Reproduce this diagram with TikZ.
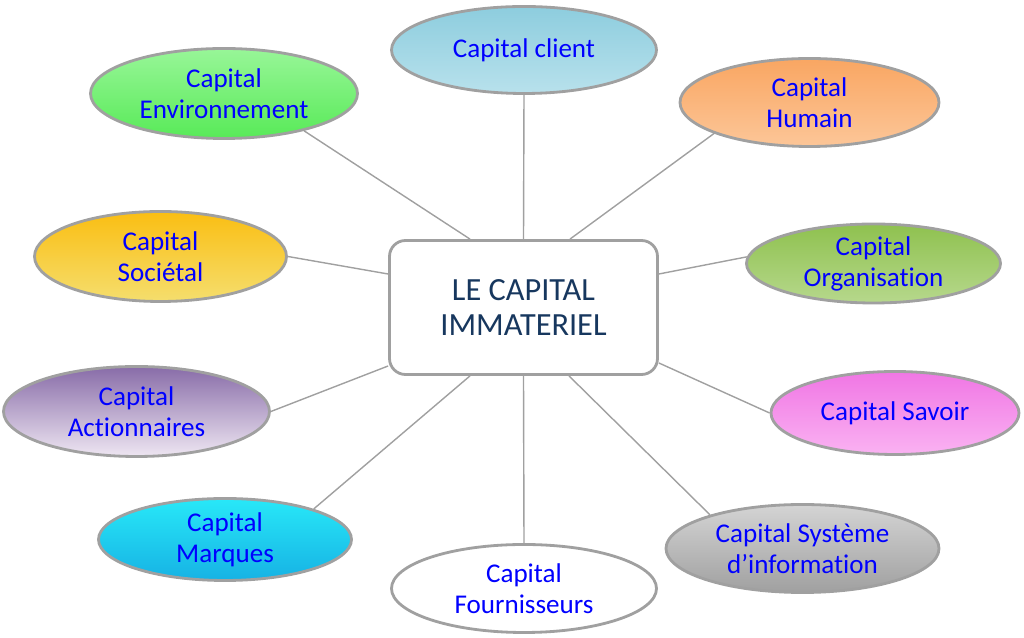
\documentclass[tikz,border=0pt]{standalone}
\usepackage{fontspec}
\setmainfont[Ligatures=NoCommon]{Carlito}
\usepackage{tikz}
\usetikzlibrary{shapes.geometric}

\definecolor{bordgris}{RGB}{160,160,160}
\definecolor{textehub}{RGB}{23,55,94}

\begin{document}
\begin{tikzpicture}
	\tikzstyle{bulle}=[ellipse, draw=bordgris, line width=1.6pt, inner sep=0pt, text=blue, align=center, font=\fontsize{15.4}{17.6}\selectfont]
	\tikzstyle{lien}=[draw=bordgris, line width=0.8pt]
	\useasboundingbox (0,0) rectangle (20.48,12.76);
	
	\node[draw=bordgris, line width=1.6pt, rounded corners=0.32cm, minimum width=5.36cm, minimum height=2.68cm, align=center, text=textehub, font=\fontsize{18.4}{20}\selectfont] (hub) at (10.47,6.61) {LE CAPITAL\\IMMATERIEL};
	
	\node[bulle, minimum width=5.30cm, minimum height=1.74cm, top color={rgb,255:red,141;green,205;blue,222}, bottom color={rgb,255:red,184;green,225;blue,236}] (client) at (10.48,11.76) {Capital client};
	\node[bulle, minimum width=5.18cm, minimum height=1.76cm, top color={rgb,255:red,249;green,166;blue,98}, bottom color={rgb,255:red,252;green,198;blue,152}] (humain) at (16.19,10.71) {Capital\\Humain};
	\node[bulle, minimum width=5.08cm, minimum height=1.58cm, top color={rgb,255:red,143;green,193;blue,79}, bottom color={rgb,255:red,182;green,216;blue,140}] (organisation) at (17.47,7.49) {Capital\\Organisation};
	\node[bulle, minimum width=4.96cm, minimum height=1.66cm, top color={rgb,255:red,240;green,118;blue,228}, bottom color={rgb,255:red,250;green,178;blue,242}] (savoir) at (17.90,4.50) {Capital Savoir};
	\node[bulle, minimum width=5.46cm, minimum height=1.76cm, top color={rgb,255:red,212;green,212;blue,212}, bottom color={rgb,255:red,160;green,160;blue,160}] (systeme) at (16.05,1.79) {Capital Système\\d’information};
	\node[bulle, minimum width=5.30cm, minimum height=1.76cm, fill=white] (fournisseurs) at (10.48,0.99) {Capital\\Fournisseurs};
	\node[bulle, minimum width=5.06cm, minimum height=1.64cm, top color={rgb,255:red,40;green,232;blue,248}, bottom color={rgb,255:red,22;green,178;blue,228}] (marques) at (4.50,1.97) {Capital\\Marques};
	\node[bulle, minimum width=5.32cm, minimum height=1.80cm, top color={rgb,255:red,136;green,108;blue,168}, bottom color={rgb,255:red,238;green,230;blue,242}] (actionnaires) at (2.73,4.53) {Capital\\Actionnaires};
	\node[bulle, minimum width=5.04cm, minimum height=1.80cm, top color={rgb,255:red,250;green,190;blue,18}, bottom color={rgb,255:red,245;green,222;blue,110}] (societal) at (3.21,7.63) {Capital\\Sociétal};
	\node[bulle, minimum width=5.34cm, minimum height=1.80cm, top color={rgb,255:red,152;green,246;blue,152}, bottom color={rgb,255:red,88;green,234;blue,88}] (environnement) at (4.48,10.89) {Capital\\Environnement};
	
	\path[lien]
	(hub.north) edge (client.south)
	([xshift=0.93cm]hub.north) edge (humain.198)
	([yshift=0.67cm]hub.east) edge (organisation.177)
	([yshift=-1.11cm]hub.east) edge (savoir.west)
	([xshift=0.91cm]hub.south) edge (systeme.160)
	(hub.south) edge (fournisseurs.north)
	([xshift=-1.07cm]hub.south) edge (marques.19)
	([yshift=-1.17cm]hub.west) edge (actionnaires.east)
	([yshift=0.67cm]hub.west) edge (societal.east)
	([xshift=-1.07cm]hub.north) edge (environnement.335)
	;
\end{tikzpicture}
\end{document}
